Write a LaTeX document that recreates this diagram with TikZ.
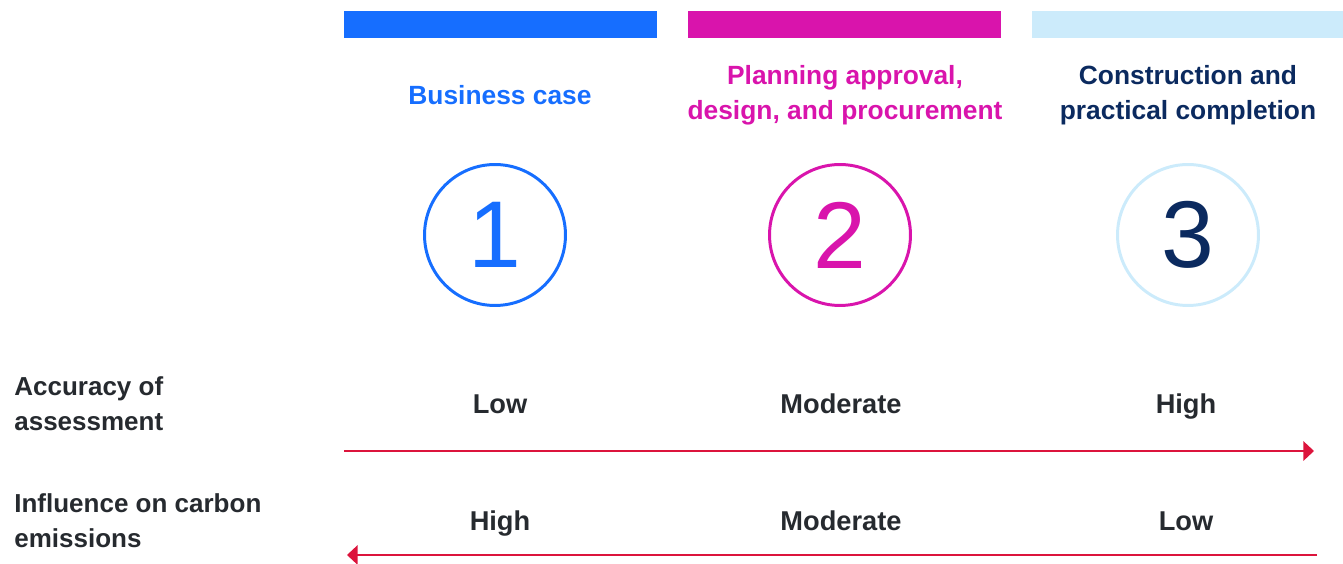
\documentclass[tikz,border=0pt]{standalone}
\usepackage{fontspec}
\setmainfont{Liberation Sans}
\usetikzlibrary{arrows.meta}

\definecolor{phaseblue}{HTML}{166EFF}
\definecolor{phasepink}{HTML}{D914AC}
\definecolor{phasesky}{HTML}{CCEBFB}
\definecolor{phasenavy}{HTML}{0B2A5F}
\definecolor{textgray}{HTML}{262A2F}
\definecolor{arrowred}{HTML}{DC143C}

\tikzset{
  phase/.style={font=\fontsize{15}{20}\selectfont\bfseries, align=center},
  stagecirc/.style={circle, line width=1.7pt, minimum size=2.82cm, inner sep=0pt,
    font=\fontsize{54}{54}\selectfont},
  rowlabel/.style={font=\fontsize{14.8}{20}\selectfont\bfseries, text=textgray, align=left,
    anchor=west, inner xsep=0pt},
  level/.style={font=\fontsize{15.5}{17}\selectfont\bfseries, text=textgray,
    text height=11pt, text depth=3pt},
  trendarrow/.style={draw=arrowred, line width=0.9pt, -{Triangle[length=6pt,width=11pt]}}
}

\begin{document}
\begin{tikzpicture}[x=0.02cm,y=-0.02cm]
\useasboundingbox (0,0) rectangle (1343,564);

\fill[phaseblue] (344,11) rectangle (657,38);
\fill[phasepink] (688,11) rectangle (1001,38);
\fill[phasesky] (1032,11) rectangle (1343,38);

\node[phase, text=phaseblue] (head1) at (500,95) {Business case};
\node[phase, text=phasepink] (head2) at (845,95) {Planning approval,\\design, and procurement};
\node[phase, text=phasenavy] (head3) at (1188,95) {Construction and\\practical completion};

\node[stagecirc, draw=phaseblue, text=phaseblue] (circ1) at (495,235) {1};
\node[stagecirc, draw=phasepink, text=phasepink] (circ2) at (840,235) {2};
\node[stagecirc, draw=phasesky, text=phasenavy] (circ3) at (1188,235) {3};

\node[rowlabel] (accuracy) at (14,404) {Accuracy of\\assessment};
\node[level] (acc1) at (500,406) {Low};
\node[level] (acc2) at (841,406) {Moderate};
\node[level] (acc3) at (1186,406) {High};

\node[rowlabel] (influence) at (14,521) {Influence on carbon\\emissions};
\node[level] (inf1) at (500,523) {High};
\node[level] (inf2) at (841,523) {Moderate};
\node[level] (inf3) at (1186,523) {Low};

\coordinate (accstart) at (344,451);
\coordinate (accend) at (1314,451);
\coordinate (infstart) at (1317,555);
\coordinate (infend) at (347,555);
\draw[trendarrow] (accstart) -- (accend);
\draw[trendarrow] (infstart) -- (infend);
\end{tikzpicture}
\end{document}
